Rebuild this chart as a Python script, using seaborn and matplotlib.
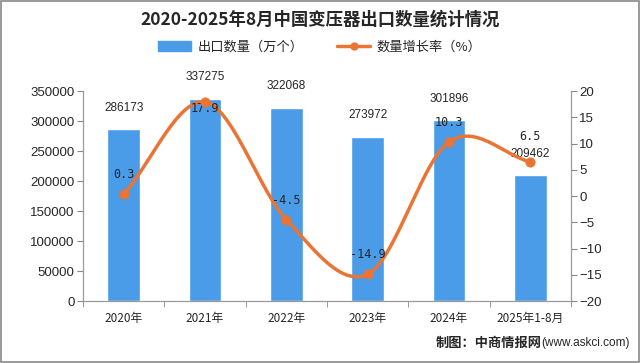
import numpy as np
import pandas as pd
import seaborn as sns
from matplotlib import pyplot as plt
from matplotlib.lines import Line2D
from matplotlib.patches import Patch

years = ["2020年", "2021年", "2022年", "2023年", "2024年", "2025年1-8月"]
export_qty = [286173, 337275, 322068, 273972, 301896, 209462]
growth_rate = [0.3, 17.9, -4.5, -14.9, 10.3, 6.5]

bar_color = "#4a9be8"
line_color = "#ea7434"

sns.set_style("white")
plt.rcParams["font.family"] = ["Noto Sans CJK SC", "DejaVu Sans"]

df = pd.DataFrame({"year": years, "qty": export_qty, "rate": growth_rate})

fig = plt.figure(figsize=(6.4, 3.63), dpi=100)
ax = fig.add_axes([83 / 640, 1 - 301 / 363, (571 - 83) / 640, (301 - 91) / 363])

sns.barplot(data=df, x="year", y="qty", color=bar_color, width=0.4,
            saturation=1, ax=ax)
ax.set_ylim(0, 350000)
ax.set_xlim(-0.5, len(years) - 0.5)
ax.set_yticks(np.arange(0, 350001, 50000))
ax.set_xlabel("")
ax.set_ylabel("")
ax.tick_params(axis="y", labelsize=9.5, length=4, color="#888888", direction="out",
               left=True, pad=2)
ax.tick_params(axis="x", labelsize=8.5, length=0, pad=8)
ax.set_xticks(np.arange(-0.5, len(years)), minor=True)
ax.tick_params(axis="x", which="minor", length=4, color="#888888", bottom=True)
for lab in ax.get_yticklabels():
    lab.set_fontfamily(["Liberation Sans", "DejaVu Sans"])
for s in ["left", "bottom", "right"]:
    ax.spines[s].set_color("#999999")
    ax.spines[s].set_linewidth(0.8)
ax.spines["top"].set_visible(False)

for i, v in enumerate(export_qty):
    ax.annotate(str(v), (i, v), xytext=(0, 11), textcoords="offset points",
                ha="center", va="bottom", fontsize=8.5,
                family=["Liberation Sans", "DejaVu Sans"])

# smooth curve through the growth points (Catmull-Rom)
ax2 = ax.twinx()
xs = np.arange(len(growth_rate), dtype=float)
ys = np.array(growth_rate, dtype=float)
px = np.concatenate([[2 * xs[0] - xs[1]], xs, [2 * xs[-1] - xs[-2]]])
py = np.concatenate([[2 * ys[0] - ys[1]], ys, [2 * ys[-1] - ys[-2]]])
cx, cy = [], []
for k in range(1, len(px) - 2):
    t = np.linspace(0, 1, 30)
    for arr, out in ((px, cx), (py, cy)):
        p0, p1, p2, p3 = arr[k - 1], arr[k], arr[k + 1], arr[k + 2]
        out.extend(0.5 * (2 * p1 + (-p0 + p2) * t + (2 * p0 - 5 * p1 + 4 * p2 - p3) * t ** 2
                          + (-p0 + 3 * p1 - 3 * p2 + p3) * t ** 3))
ax2.plot(cx, cy, color=line_color, lw=2.5)
sns.scatterplot(x=xs, y=ys, color=line_color, s=45, edgecolor=line_color,
                zorder=5, ax=ax2)
ax2.set_ylim(-20, 20)
ax2.set_yticks(np.arange(-20, 21, 5))
ax2.tick_params(axis="y", labelsize=9.5, length=4, color="#888888", direction="out",
                right=True, pad=2)
for lab in ax2.get_yticklabels():
    lab.set_fontfamily(["Liberation Sans", "DejaVu Sans"])
for s in ["left", "bottom", "right"]:
    ax2.spines[s].set_color("#999999")
    ax2.spines[s].set_linewidth(0.8)
ax2.spines["top"].set_visible(False)

offsets = [14, -5, 14, 14, 14, 18]
for i, v in enumerate(growth_rate):
    ax2.annotate(f"{v}", (i, v), xytext=(0, offsets[i]), textcoords="offset points",
                 ha="center", va="center", fontsize=8.5,
                 family=["DejaVu Sans Mono", "DejaVu Sans"])

fig.text(0.5, 1 - 20 / 363, "2020-2025年8月中国变压器出口数量统计情况",
         ha="center", va="center", fontsize=12.5, fontweight="bold")

handles = [Patch(color=bar_color, label="出口数量（万个）"),
           Line2D([0], [0], color=line_color, lw=2.5, marker="o", ms=5,
                  label="数量增长率（%）")]
fig.legend(handles=handles, loc="center", bbox_to_anchor=(0.5, 1 - 47 / 363),
           ncol=2, frameon=False, fontsize=9.5, handlelength=2.5, columnspacing=2.5,
           handletextpad=0.5)

t1 = fig.text(1 - 10 / 640, 1 - 343 / 363, "(www.askci.com)", ha="right",
              va="center", fontsize=8.5, family=["Liberation Sans", "DejaVu Sans"])
fig.canvas.draw()
bb = t1.get_window_extent()
fig.text(bb.x0 / fig.bbox.width, 1 - 343 / 363, "制图：中商情报网", ha="right",
         va="center", fontsize=9.5, fontweight="bold")

fig.patches.append(plt.Rectangle((0.002, 0.003), 0.996, 0.994, transform=fig.transFigure,
                                 fill=False, edgecolor="#888888", lw=1.2))

fig.savefig("out.png", dpi=100)
